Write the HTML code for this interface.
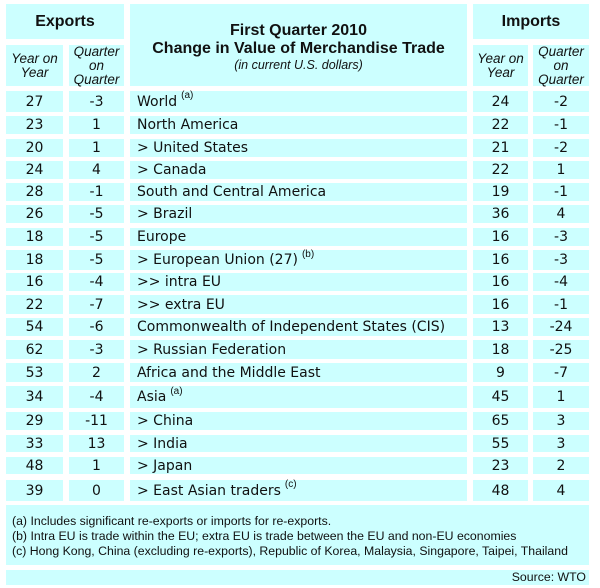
<!DOCTYPE html>
<html><head><meta charset="utf-8"><style>
body{margin:0;background:#fff;width:600px;height:588px;position:relative;overflow:hidden;font-family:"DejaVu Sans","Liberation Sans",sans-serif;color:#111}
.b{position:absolute;background:#ccffff;box-sizing:border-box}
.c{display:flex;align-items:center;justify-content:center;text-align:center}
.l{display:flex;align-items:center;padding-left:7px}
.n{font-size:14px}
.h{font-family:"Liberation Sans",sans-serif}
sup{font-size:10px;position:relative;top:-6px;margin-left:4px;font-family:"Liberation Sans",sans-serif}
.it{font-family:"Liberation Sans",sans-serif;font-style:italic;font-size:13.5px;line-height:14px}
</style></head><body>
<div class="b c h" style="left:6px;top:4px;width:118px;height:35px;font-weight:bold;font-size:16px">Exports</div>
<div class="b c it" style="left:6px;top:45px;width:57px;height:41px">Year on<br>Year</div>
<div class="b c it" style="left:69px;top:45px;width:55px;height:41px">Quarter<br>on<br>Quarter</div>
<div class="b c h" style="left:130px;top:4px;width:337px;height:82px;flex-direction:column;justify-content:flex-start;padding-top:18px">
<div style="font-weight:bold;font-size:16px;line-height:18px">First Quarter 2010</div>
<div style="font-weight:bold;font-size:16px;line-height:18px">Change in Value of Merchandise Trade</div>
<div style="font-style:italic;font-size:12.5px;line-height:14px">(in current U.S. dollars)</div></div>
<div class="b c h" style="left:473px;top:4px;width:116px;height:35px;font-weight:bold;font-size:16px">Imports</div>
<div class="b c it" style="left:473px;top:45px;width:55px;height:41px">Year on<br>Year</div>
<div class="b c it" style="left:533px;top:45px;width:56px;height:41px">Quarter<br>on<br>Quarter</div>

<div class="b c n" style="left:6px;top:91px;width:57px;height:21px">27</div><div class="b c n" style="left:69px;top:91px;width:55px;height:21px">-3</div><div class="b l n" style="left:130px;top:91px;width:337px;height:21px">World<sup>(a)</sup></div><div class="b c n" style="left:473px;top:91px;width:55px;height:21px">24</div><div class="b c n" style="left:533px;top:91px;width:56px;height:21px">-2</div>
<div class="b c n" style="left:6px;top:116px;width:57px;height:18px">23</div><div class="b c n" style="left:69px;top:116px;width:55px;height:18px">1</div><div class="b l n" style="left:130px;top:116px;width:337px;height:18px">North America</div><div class="b c n" style="left:473px;top:116px;width:55px;height:18px">22</div><div class="b c n" style="left:533px;top:116px;width:56px;height:18px">-1</div>
<div class="b c n" style="left:6px;top:139px;width:57px;height:18px">20</div><div class="b c n" style="left:69px;top:139px;width:55px;height:18px">1</div><div class="b l n" style="left:130px;top:139px;width:337px;height:18px">&gt; United States</div><div class="b c n" style="left:473px;top:139px;width:55px;height:18px">21</div><div class="b c n" style="left:533px;top:139px;width:56px;height:18px">-2</div>
<div class="b c n" style="left:6px;top:161px;width:57px;height:18px">24</div><div class="b c n" style="left:69px;top:161px;width:55px;height:18px">4</div><div class="b l n" style="left:130px;top:161px;width:337px;height:18px">&gt; Canada</div><div class="b c n" style="left:473px;top:161px;width:55px;height:18px">22</div><div class="b c n" style="left:533px;top:161px;width:56px;height:18px">1</div>
<div class="b c n" style="left:6px;top:183px;width:57px;height:18px">28</div><div class="b c n" style="left:69px;top:183px;width:55px;height:18px">-1</div><div class="b l n" style="left:130px;top:183px;width:337px;height:18px">South and Central America</div><div class="b c n" style="left:473px;top:183px;width:55px;height:18px">19</div><div class="b c n" style="left:533px;top:183px;width:56px;height:18px">-1</div>
<div class="b c n" style="left:6px;top:205px;width:57px;height:18px">26</div><div class="b c n" style="left:69px;top:205px;width:55px;height:18px">-5</div><div class="b l n" style="left:130px;top:205px;width:337px;height:18px">&gt; Brazil</div><div class="b c n" style="left:473px;top:205px;width:55px;height:18px">36</div><div class="b c n" style="left:533px;top:205px;width:56px;height:18px">4</div>
<div class="b c n" style="left:6px;top:228px;width:57px;height:18px">18</div><div class="b c n" style="left:69px;top:228px;width:55px;height:18px">-5</div><div class="b l n" style="left:130px;top:228px;width:337px;height:18px">Europe</div><div class="b c n" style="left:473px;top:228px;width:55px;height:18px">16</div><div class="b c n" style="left:533px;top:228px;width:56px;height:18px">-3</div>
<div class="b c n" style="left:6px;top:250px;width:57px;height:20px">18</div><div class="b c n" style="left:69px;top:250px;width:55px;height:20px">-5</div><div class="b l n" style="left:130px;top:250px;width:337px;height:20px">&gt; European Union (27)<sup>(b)</sup></div><div class="b c n" style="left:473px;top:250px;width:55px;height:20px">16</div><div class="b c n" style="left:533px;top:250px;width:56px;height:20px">-3</div>
<div class="b c n" style="left:6px;top:273px;width:57px;height:18px">16</div><div class="b c n" style="left:69px;top:273px;width:55px;height:18px">-4</div><div class="b l n" style="left:130px;top:273px;width:337px;height:18px">&gt;&gt; intra EU</div><div class="b c n" style="left:473px;top:273px;width:55px;height:18px">16</div><div class="b c n" style="left:533px;top:273px;width:56px;height:18px">-4</div>
<div class="b c n" style="left:6px;top:295px;width:57px;height:19px">22</div><div class="b c n" style="left:69px;top:295px;width:55px;height:19px">-7</div><div class="b l n" style="left:130px;top:295px;width:337px;height:19px">&gt;&gt; extra EU</div><div class="b c n" style="left:473px;top:295px;width:55px;height:19px">16</div><div class="b c n" style="left:533px;top:295px;width:56px;height:19px">-1</div>
<div class="b c n" style="left:6px;top:318px;width:57px;height:18px">54</div><div class="b c n" style="left:69px;top:318px;width:55px;height:18px">-6</div><div class="b l n" style="left:130px;top:318px;width:337px;height:18px">Commonwealth of Independent States (CIS)</div><div class="b c n" style="left:473px;top:318px;width:55px;height:18px">13</div><div class="b c n" style="left:533px;top:318px;width:56px;height:18px">-24</div>
<div class="b c n" style="left:6px;top:340px;width:57px;height:19px">62</div><div class="b c n" style="left:69px;top:340px;width:55px;height:19px">-3</div><div class="b l n" style="left:130px;top:340px;width:337px;height:19px">&gt; Russian Federation</div><div class="b c n" style="left:473px;top:340px;width:55px;height:19px">18</div><div class="b c n" style="left:533px;top:340px;width:56px;height:19px">-25</div>
<div class="b c n" style="left:6px;top:363px;width:57px;height:19px">53</div><div class="b c n" style="left:69px;top:363px;width:55px;height:19px">2</div><div class="b l n" style="left:130px;top:363px;width:337px;height:19px">Africa and the Middle East</div><div class="b c n" style="left:473px;top:363px;width:55px;height:19px">9</div><div class="b c n" style="left:533px;top:363px;width:56px;height:19px">-7</div>
<div class="b c n" style="left:6px;top:386px;width:57px;height:22px">34</div><div class="b c n" style="left:69px;top:386px;width:55px;height:22px">-4</div><div class="b l n" style="left:130px;top:386px;width:337px;height:22px">Asia<sup>(a)</sup></div><div class="b c n" style="left:473px;top:386px;width:55px;height:22px">45</div><div class="b c n" style="left:533px;top:386px;width:56px;height:22px">1</div>
<div class="b c n" style="left:6px;top:412px;width:57px;height:18px">29</div><div class="b c n" style="left:69px;top:412px;width:55px;height:18px">-11</div><div class="b l n" style="left:130px;top:412px;width:337px;height:18px">&gt; China</div><div class="b c n" style="left:473px;top:412px;width:55px;height:18px">65</div><div class="b c n" style="left:533px;top:412px;width:56px;height:18px">3</div>
<div class="b c n" style="left:6px;top:435px;width:57px;height:17px">33</div><div class="b c n" style="left:69px;top:435px;width:55px;height:17px">13</div><div class="b l n" style="left:130px;top:435px;width:337px;height:17px">&gt; India</div><div class="b c n" style="left:473px;top:435px;width:55px;height:17px">55</div><div class="b c n" style="left:533px;top:435px;width:56px;height:17px">3</div>
<div class="b c n" style="left:6px;top:457px;width:57px;height:17px">48</div><div class="b c n" style="left:69px;top:457px;width:55px;height:17px">1</div><div class="b l n" style="left:130px;top:457px;width:337px;height:17px">&gt; Japan</div><div class="b c n" style="left:473px;top:457px;width:55px;height:17px">23</div><div class="b c n" style="left:533px;top:457px;width:56px;height:17px">2</div>
<div class="b c n" style="left:6px;top:480px;width:57px;height:21px">39</div><div class="b c n" style="left:69px;top:480px;width:55px;height:21px">0</div><div class="b l n" style="left:130px;top:480px;width:337px;height:21px">&gt; East Asian traders<sup>(c)</sup></div><div class="b c n" style="left:473px;top:480px;width:55px;height:21px">48</div><div class="b c n" style="left:533px;top:480px;width:56px;height:21px">4</div>

<div class="b h" style="left:6px;top:505px;width:583px;height:60px;padding:9px 0 0 6px;font-size:12.3px;line-height:15px">(a) Includes significant re-exports or imports for re-exports.<br>(b) Intra EU is trade within the EU; extra EU is trade between the EU and non-EU economies<br>(c) Hong Kong, China (excluding re-exports), Republic of Korea, Malaysia, Singapore, Taipei, Thailand</div>
<div class="b h" style="left:6px;top:570px;width:583px;height:15px;text-align:right;padding-right:3px;font-size:12.3px;line-height:15px">Source: WTO</div>
</body></html>
